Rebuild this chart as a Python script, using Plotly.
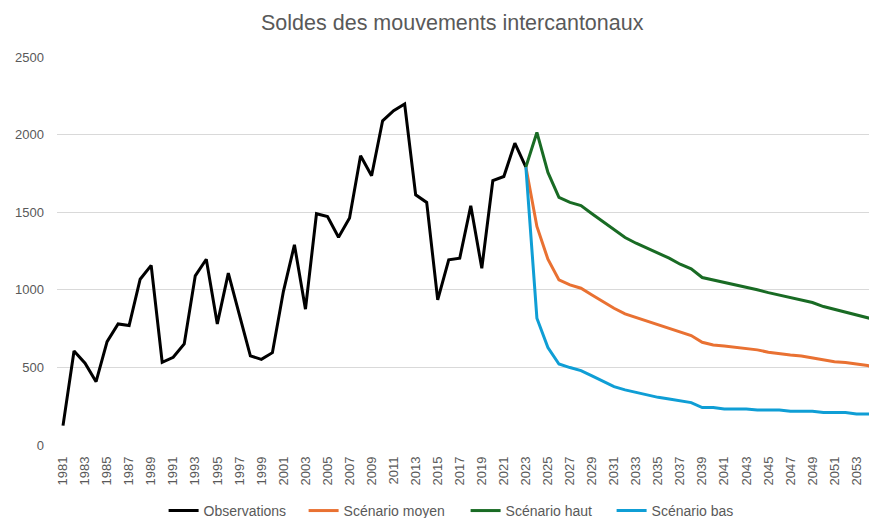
import plotly.graph_objects as go

years = [str(y) for y in range(1981, 2056)]

obs_years = [str(y) for y in range(1981, 2024)]
observations = [125, 606, 527, 408, 666, 780, 770, 1068, 1157, 533,
                565, 651, 1090, 1197, 780, 1107, 840, 574, 552, 595,
                990, 1290, 875, 1490, 1472, 1339, 1462, 1864, 1735, 2089,
                2154, 2197, 1612, 1563, 935, 1193, 1204, 1541, 1139, 1703,
                1730, 1945, 1791]

proj_years = [str(y) for y in range(2023, 2056)]
scen_moyen = [1791, 1408, 1197, 1064, 1032, 1010, 967, 924, 881, 845,
              821, 800, 778, 752, 727, 705, 662, 645, 638, 630,
              623, 613, 598, 587, 580, 574, 563, 548, 537, 531,
              522, 512, 494]
scen_haut = [1791, 2014, 1756, 1595, 1563, 1543, 1490, 1440, 1387, 1337,
             1300, 1268, 1236, 1204, 1165, 1135, 1079, 1064, 1047, 1032,
             1015, 1000, 982, 967, 950, 935, 918, 892, 875, 856,
             838, 821, 802]
scen_bas = [1791, 817, 628, 522, 499, 479, 445, 413, 376, 355,
            340, 322, 307, 297, 284, 273, 241, 241, 232, 232,
            232, 226, 226, 226, 217, 217, 217, 209, 209, 209,
            200, 200, 200]

tick_labels = [str(y) for y in range(1981, 2056, 2)]
y_ticks = [0, 500, 1000, 1500, 2000, 2500]

FONT = "Liberation Sans"
GRAY = "#595959"

fig = go.Figure()
series = [
    ("Observations", obs_years, observations, "#000000", 95),
    ("Scénario moyen", proj_years, scen_moyen, "#E97132", 117),
    ("Scénario haut", proj_years, scen_haut, "#196B24", 101),
    ("Scénario bas", proj_years, scen_bas, "#0F9ED5", 81),
]
for name, xs, ys, col, lw in series:
    fig.add_trace(go.Scatter(x=xs, y=ys, name=name, mode="lines",
                             legendwidth=lw,
                             line=dict(color=col, width=3)))

# the page body has an 8px margin, so the figure is 8px smaller
fig.update_layout(
    width=869, height=510,
    paper_bgcolor="white", plot_bgcolor="white",
    margin=dict(l=49, r=0, t=49, b=73, autoexpand=False),
    title=dict(text="Soldes des mouvements intercantonaux",
               xref="paper", x=0.482, xanchor="center",
               yref="container", y=1 - 14 / 510, yanchor="middle",
               font=dict(family=FONT, size=21.5, color=GRAY)),
    font=dict(family=FONT, color=GRAY),
    showlegend=True,
    legend=dict(orientation="h", x=0.48, xanchor="center",
                y=-0.17, yanchor="middle",
                font=dict(family=FONT, size=14, color=GRAY),
                itemwidth=30, tracegroupgap=0),
    xaxis=dict(type="category", categoryorder="array", categoryarray=years,
               range=[-0.545, 73.86], tickmode="array",
               tickvals=tick_labels, ticktext=tick_labels, automargin=False,
               tickangle=-90, tickfont=dict(size=13, color=GRAY),
               ticklabelstandoff=8,
               showgrid=False, showline=False, ticks="", ticklen=0,
               zeroline=False),
    yaxis=dict(range=[0, 2500], tickvals=y_ticks, showgrid=True,
               automargin=False,
               gridcolor="#D9D9D9", gridwidth=1, zeroline=False,
               showline=False, ticks="", ticklabelstandoff=12,
               tickfont=dict(size=13, color=GRAY)),
)

fig.write_html("out.html")
